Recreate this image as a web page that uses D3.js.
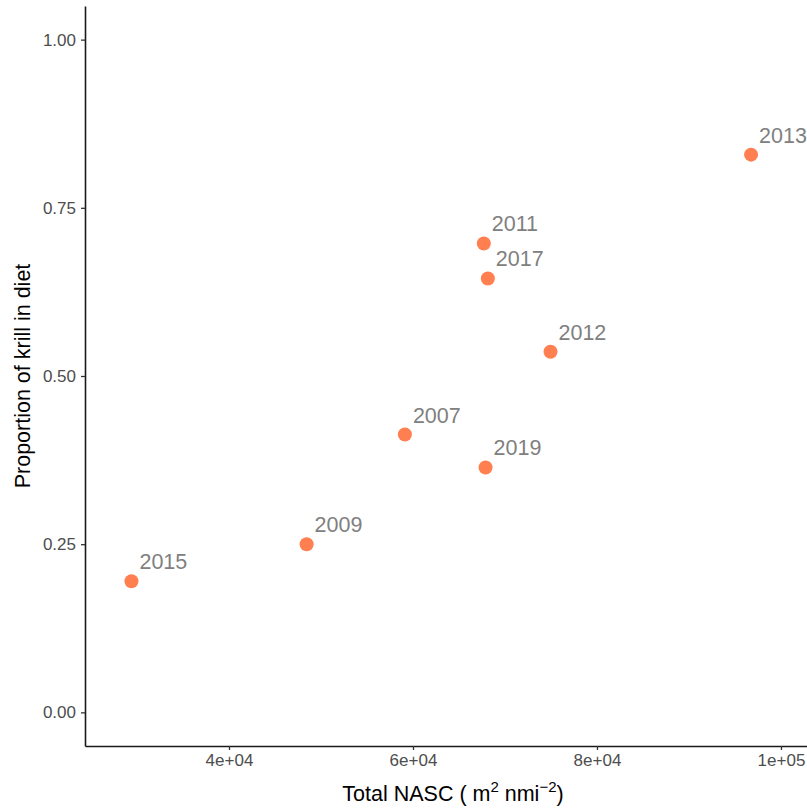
<!DOCTYPE html>
<html>
<head>
<meta charset="utf-8">
<script src="https://cdn.jsdelivr.net/npm/d3@7"></script>
<style>
  html, body { margin: 0; padding: 0; background: #ffffff; }
  svg { display: block; font-family: Arial, "Liberation Sans", sans-serif; }
</style>
</head>
<body>
<div id="chart"></div>
<script>
// valores
const years = ["2015", "2009", "2007", "2019", "2011", "2017", "2012", "2013"];
const nasc = [29400, 48440, 59120, 67890, 67700, 68140, 74950, 96750];
const krill = [0.195, 0.25, 0.413, 0.364, 0.697, 0.645, 0.536, 0.829];

const xTicks = [40000, 60000, 80000, 100000];
const xTickLabels = ["4e+04", "6e+04", "8e+04", "1e+05"];
const yTicks = [0, 0.25, 0.5, 0.75, 1];

const width = 807;
const height = 808;
const margin = { top: 6, right: 0, bottom: 62, left: 85 };

const svg = d3
  .select("#chart")
  .append("svg")
  .attr("width", width)
  .attr("height", height);

const x = d3
  .scaleLinear()
  .domain([24350, 102830])
  .range([margin.left, width - margin.right]);

const y = d3
  .scaleLinear()
  .domain([-0.05, 1.05])
  .range([height - margin.bottom, margin.top]);

// ejes
const xAxis = svg
  .append("g")
  .attr("transform", `translate(0,${height - margin.bottom})`)
  .call(
    d3.axisBottom(x)
      .tickValues(xTicks)
      .tickFormat((d, i) => xTickLabels[i])
      .tickSize(4)
      .tickPadding(4)
      .tickSizeOuter(0),
  );

const yAxis = svg
  .append("g")
  .attr("transform", `translate(${margin.left},0)`)
  .call(
    d3.axisLeft(y)
      .tickValues(yTicks)
      .tickFormat(d3.format(".2f"))
      .tickSize(4)
      .tickPadding(5)
      .tickSizeOuter(0),
  );

[xAxis, yAxis].forEach((ax) => {
  ax.attr("font-size", null).attr("font-family", null);
  ax.select(".domain").attr("stroke", "#1a1a1a").attr("stroke-width", 1.6);
  ax.selectAll(".tick line").attr("stroke", "#333333").attr("stroke-width", 1.3);
  ax.selectAll(".tick text")
    .style("fill", "#4d4d4d")
    .style("font-size", "17px")
    .style("font-family", "Arial, 'Liberation Sans', sans-serif");
});

// puntos
const datos = years.map((yr, i) => ({ yr, x: nasc[i], y: krill[i] }));

svg
  .append("g")
  .selectAll("circle")
  .data(datos)
  .join("circle")
  .attr("cx", (d) => x(d.x))
  .attr("cy", (d) => y(d.y))
  .attr("r", 7)
  .attr("fill", "#ff7f50");

svg
  .append("g")
  .selectAll("text")
  .data(datos)
  .join("text")
  .attr("x", (d) => x(d.x) + 8)
  .attr("y", (d) => y(d.y) - 12)
  .attr("fill", "#808080")
  .style("font-size", "21.5px")
  .text((d) => d.yr);

// títulos de ejes
const xTitle = svg
  .append("text")
  .attr("x", (margin.left + width - margin.right) / 2 + 7)
  .attr("y", height - 7)
  .attr("text-anchor", "middle")
  .attr("fill", "#000000")
  .style("font-size", "21.5px");

xTitle.append("tspan").text("Total NASC ( m");
xTitle.append("tspan").style("font-size", "15px").attr("dy", -9).text("2");
xTitle.append("tspan").attr("dy", 9).text(" nmi");
xTitle.append("tspan").style("font-size", "15px").attr("dy", -9).text("\u22122");
xTitle.append("tspan").attr("dy", 9).text(")");

svg
  .append("text")
  .attr("transform", `translate(30,${(margin.top + height - margin.bottom) / 2}) rotate(-90)`)
  .attr("text-anchor", "middle")
  .attr("fill", "#000000")
  .style("font-size", "21.5px")
  .text("Proportion of krill in diet");
</script>
</body>
</html>
